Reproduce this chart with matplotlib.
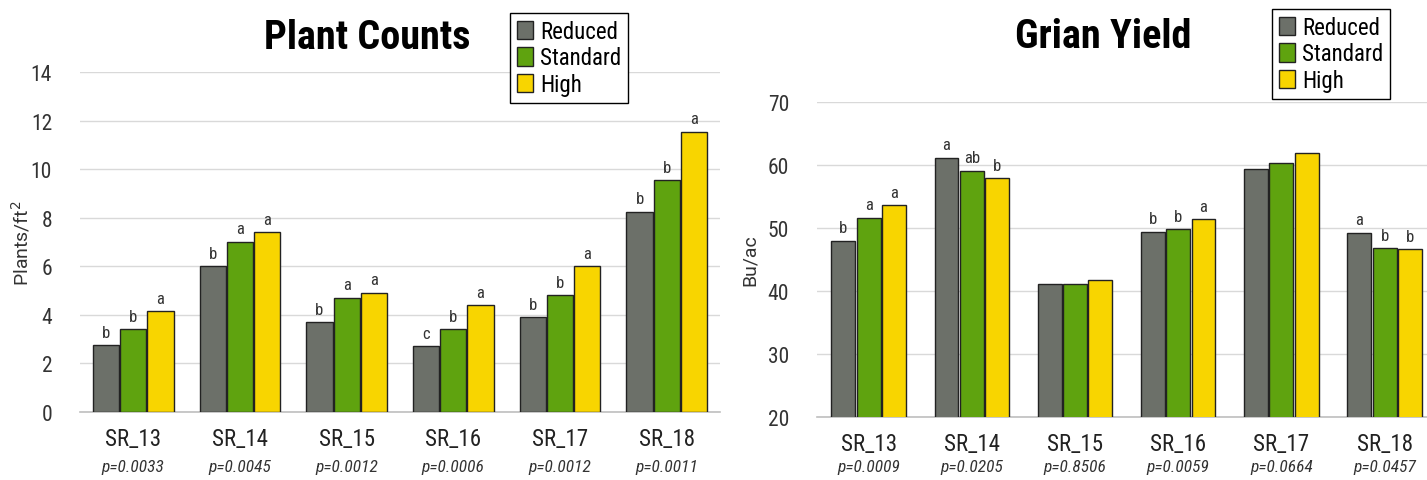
import matplotlib.pyplot as plt
from matplotlib.patches import Patch
import numpy as np

sites = ["SR_13", "SR_14", "SR_15", "SR_16", "SR_17", "SR_18"]
rates = ["Reduced", "Standard", "High"]

# plant counts (plants/ft2)
counts_reduced = [2.75, 6.0, 3.7, 2.7, 3.9, 8.25]
counts_standard = [3.4, 7.0, 4.7, 3.4, 4.8, 9.55]
counts_high = [4.15, 7.4, 4.9, 4.4, 6.0, 11.55]
counts_letters = [["b", "b", "a"], ["b", "a", "a"], ["b", "a", "a"],
                  ["c", "b", "a"], ["b", "b", "a"], ["b", "b", "a"]]
counts_p = ["p=0.0033", "p=0.0045", "p=0.0012", "p=0.0006", "p=0.0012", "p=0.0011"]

# grain yield (bu/ac)
yield_reduced = [48.0, 61.1, 41.1, 49.4, 59.3, 49.2]
yield_standard = [51.6, 59.1, 41.1, 49.8, 60.3, 46.8]
yield_high = [53.6, 57.9, 41.7, 51.4, 61.9, 46.6]
yield_letters = [["b", "a", "a"], ["a", "ab", "b"], ["", "", ""],
                 ["b", "b", "a"], ["", "", ""], ["a", "b", "b"]]
yield_p = ["p=0.0009", "p=0.0205", "p=0.8506", "p=0.0059", "p=0.0664", "p=0.0457"]

colors = ["#6c7069", "#5fa30f", "#f8d500"]
edge = "#222222"

plt.rcParams["font.family"] = ["Roboto Condensed", "DejaVu Sans"]

fig = plt.figure(figsize=(14.27, 4.81), dpi=100)


def draw_panel(ax, series, letters, pvals, ylim, step, title, ylabel,
               width, spacing, title_xy, legend_box, p_y, ylabel_x):
    x = np.arange(len(sites))
    for i, vals in enumerate(series):
        pos = x + (i - 1) * spacing
        ax.bar(pos, vals, width, color=colors[i], edgecolor=edge,
               linewidth=1.0, zorder=3)
        for j, v in enumerate(vals):
            lab = letters[j][i]
            if lab:
                ax.annotate(lab, (pos[j], v), xytext=(0, 4),
                            textcoords="offset points", ha="center",
                            va="bottom", fontsize=12, color="#333333")
    ax.set_ylim(*ylim)
    ax.set_yticks(np.arange(ylim[0], ylim[1] + 0.1, step))
    ax.yaxis.grid(True, color="#d9d9d9", linewidth=1.0, zorder=0)
    ax.set_axisbelow(True)
    for s in ["top", "right", "left"]:
        ax.spines[s].set_visible(False)
    ax.spines["bottom"].set_color("#bfbfbf")
    ax.spines["bottom"].set_linewidth(1.2)
    ax.tick_params(axis="y", length=0, labelsize=15.5, pad=20, labelcolor="#333333")
    ax.tick_params(axis="x", length=0, labelsize=16.5, pad=11, labelcolor="#222222")
    ax.set_xticks(x)
    ax.set_xticklabels(sites)
    for j, p in enumerate(pvals):
        ax.text(x[j], p_y, p, transform=ax.get_xaxis_transform(),
                ha="center", va="center", fontsize=12.5, style="italic",
                color="#333333")
    ax.set_ylabel(ylabel, fontsize=14, color="#333333", family="Roboto")
    ax.yaxis.set_label_coords(ylabel_x, 0.5)
    fig.text(title_xy[0], title_xy[1], title, ha="center", va="center",
             fontsize=29, fontweight="bold", color="black")
    handles = [Patch(facecolor=c, edgecolor=edge, label=r) for c, r in zip(colors, rates)]
    leg = fig.legend(handles=handles, loc="upper left", bbox_to_anchor=legend_box,
                     fontsize=16.5, frameon=True, fancybox=False, handlelength=0.7,
                     handleheight=0.85, handletextpad=0.3, borderpad=0.3,
                     labelspacing=0.15, borderaxespad=0)
    leg.get_frame().set_edgecolor("black")
    leg.get_frame().set_linewidth(1.0)
    leg.get_frame().set_alpha(1.0)
    return leg


ax1 = fig.add_axes([0.056, 0.1414, 0.4486, 0.7066])
draw_panel(ax1, [counts_reduced, counts_standard, counts_high], counts_letters,
           counts_p, (0, 14), 2, "Plant Counts", "Plants/ft$^2$",
           0.245, 0.255, (367 / 1427, 1 - 38 / 481), (510 / 1427, 1 - 14 / 481),
           -0.16, -0.075)
ax1.set_xlim(-0.5, 5.5)

ax2 = fig.add_axes([0.5725, 0.131, 0.4275, 0.655])
draw_panel(ax2, [yield_reduced, yield_standard, yield_high], yield_letters,
           yield_p, (20, 70), 10, "Grian Yield", "Bu/ac",
           0.232, 0.245, (1103 / 1427, 1 - 37 / 481), (1272 / 1427, 1 - 10 / 481),
           -0.157, -0.095)
ax2.set_xlim(-0.5, 5.41)

fig.savefig("out.png", dpi=100)
